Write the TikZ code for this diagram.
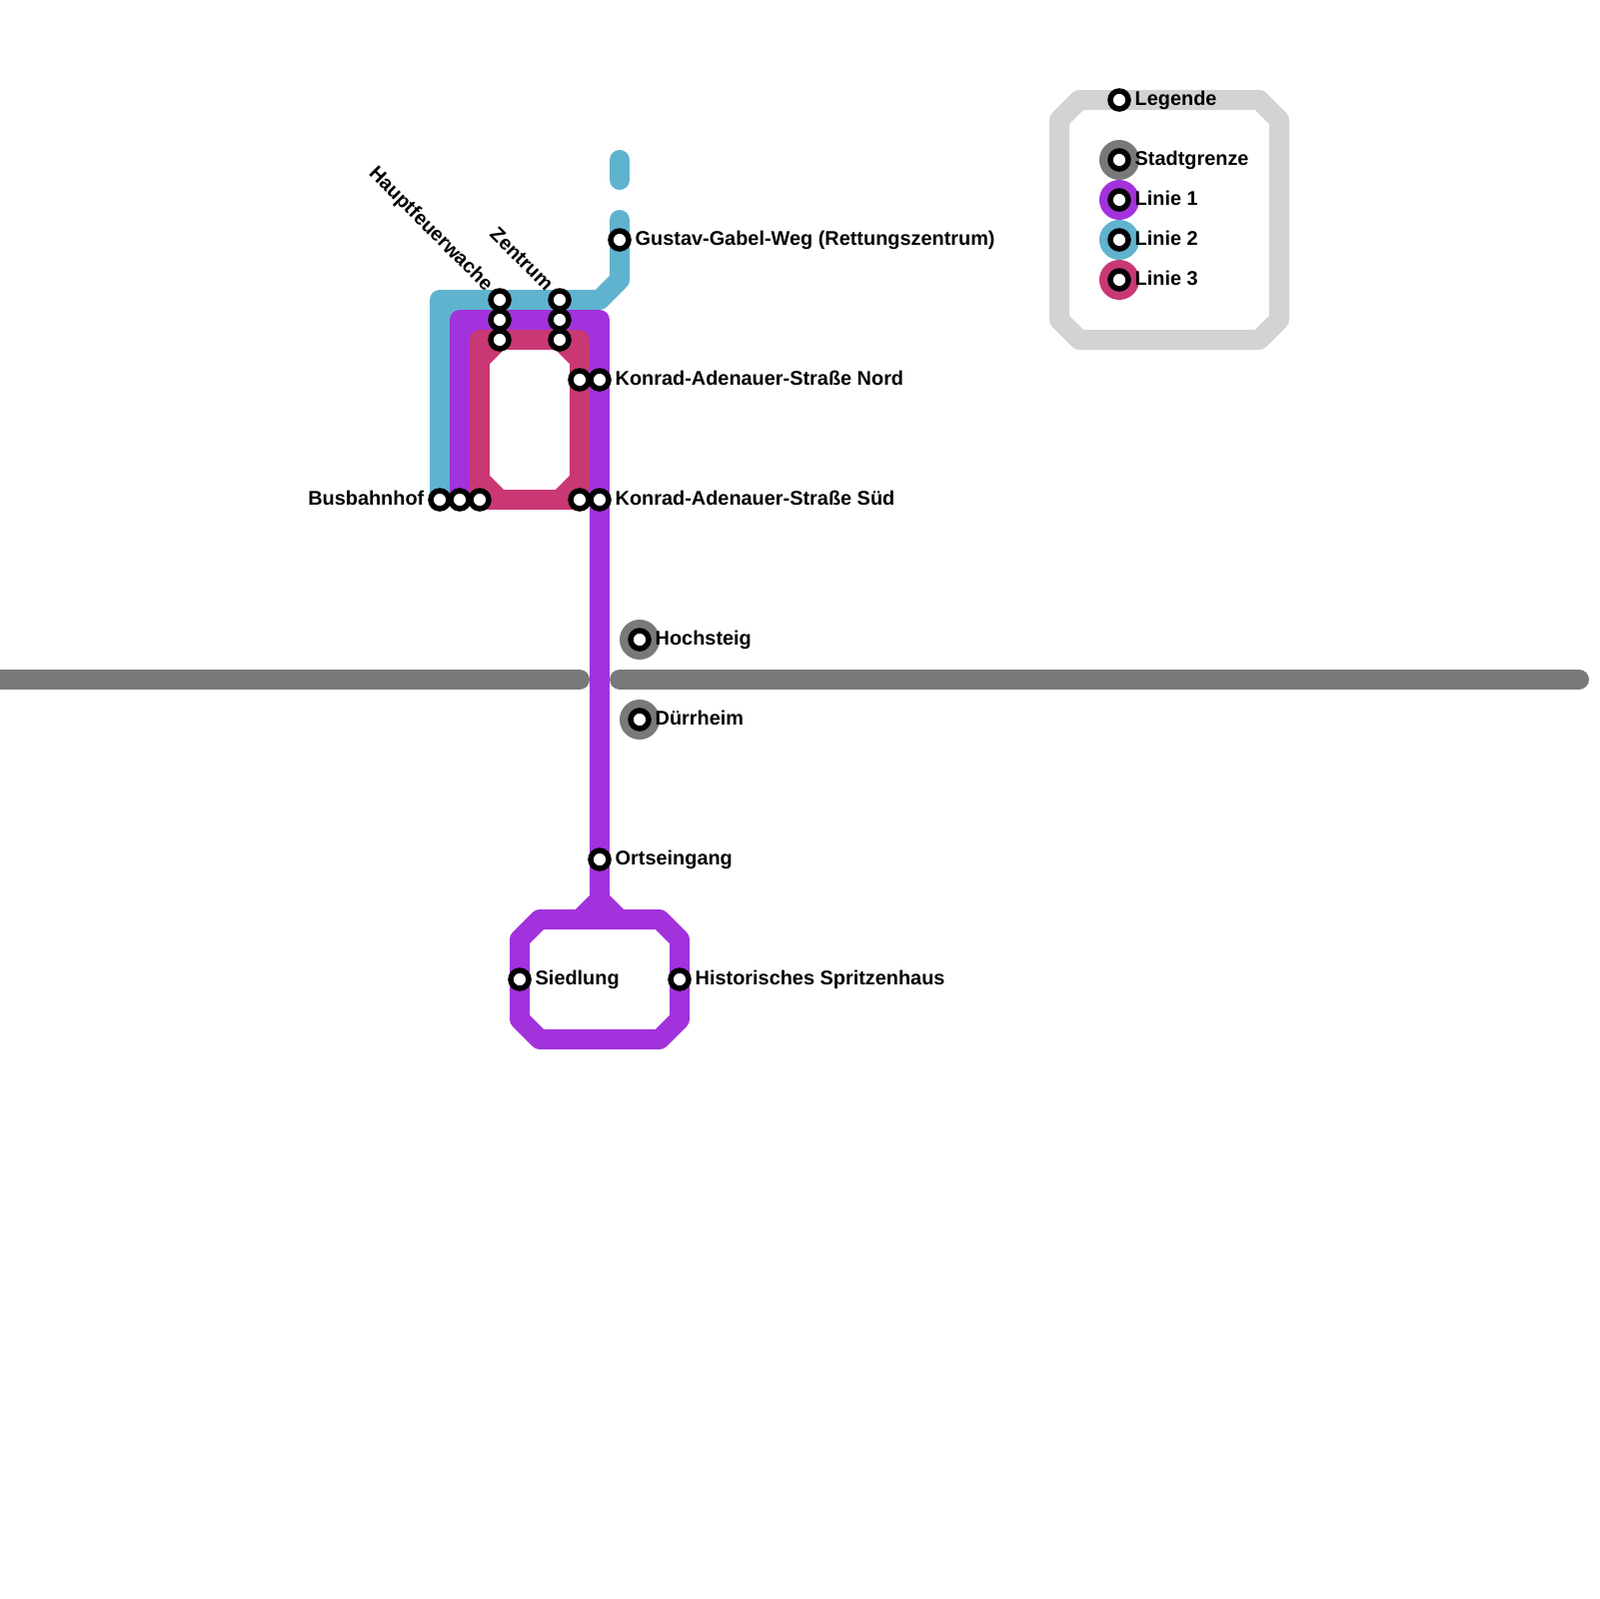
\documentclass[tikz,border=0pt]{standalone}
\usepackage{fontspec}
\setmainfont{Liberation Sans}
\usetikzlibrary{backgrounds}
\definecolor{linieA}{HTML}{A232DC}
\definecolor{linieB}{HTML}{5FB3CE}
\definecolor{linieC}{HTML}{C93873}
\definecolor{grenze}{HTML}{797979}
\definecolor{rahmen}{HTML}{D3D3D3}
\tikzset{
	stn/.style={circle,draw=black,fill=white,line width=.55mm,minimum size=1.8mm,inner sep=0pt,outer sep=0pt},
	spur/.style={line width=2mm,line cap=round,line join=round},
	lblfont/.style={font=\bfseries\fontsize{5.66}{6}\selectfont},
	lblr/.style={lblfont,anchor=base west,inner sep=0pt,xshift=1.5mm,yshift=-.55mm},
	lbll/.style={lblfont,anchor=base east,inner sep=0pt,xshift=-1.5mm,yshift=-.55mm},
	lbld/.style={lblfont,anchor=base east,inner sep=0pt,xshift=-1.4mm,yshift=.75mm,rotate=-45},
	punkt/.style={circle,minimum size=4mm,inner sep=0pt}
}
\begin{document}
\begin{tikzpicture}[x=.1mm,y=-.1mm]
	\useasboundingbox (0,0) rectangle (1600,1600);
	% stations
	\node[stn] (bus1) at (440,500) {};
	\node[stn] (bus2) at (460,500) {};
	\node[stn] (bus3) at (480,500) {};
	\node[stn] (feuer1) at (500,300) {};
	\node[stn] (feuer2) at (500,320) {};
	\node[stn] (feuer3) at (500,340) {};
	\node[stn] (zentrum1) at (560,300) {};
	\node[stn] (zentrum2) at (560,320) {};
	\node[stn] (zentrum3) at (560,340) {};
	\node[stn] (gustav) at (620,240) {};
	\node[stn] (nord1) at (580,380) {};
	\node[stn] (nord2) at (600,380) {};
	\node[stn] (sued1) at (580,500) {};
	\node[stn] (sued2) at (600,500) {};
	\node[stn] (hochsteig) at (640,640) {};
	\node[stn] (duerrheim) at (640,720) {};
	\node[stn] (ort) at (600,860) {};
	\node[stn] (siedlung) at (520,980) {};
	\node[stn] (spritze) at (680,980) {};
	\node[stn] (legende) at (1120,100) {};
	\node[stn] (stadt) at (1120,160) {};
	\node[stn] (eins) at (1120,200) {};
	\node[stn] (zwei) at (1120,240) {};
	\node[stn] (drei) at (1120,280) {};
	% labels
	\path
	(bus1.center) node[lbll]{Busbahnhof}
	(feuer1.center) node[lbld]{Hauptfeuerwache}
	(zentrum1.center) node[lbld]{Zentrum}
	(gustav.center) node[lblr]{Gustav-Gabel-Weg (Rettungszentrum)}
	(nord2.center) node[lblr]{Konrad-Adenauer-Straße Nord}
	(sued2.center) node[lblr]{Konrad-Adenauer-Straße Süd}
	(hochsteig.center) node[lblr]{Hochsteig}
	(duerrheim.center) node[lblr]{Dürrheim}
	(ort.center) node[lblr]{Ortseingang}
	(siedlung.center) node[lblr]{Siedlung}
	(spritze.center) node[lblr]{Historisches Spritzenhaus}
	(legende.center) node[lblr]{Legende}
	(stadt.center) node[lblr]{Stadtgrenze}
	(eins.center) node[lblr]{Linie 1}
	(zwei.center) node[lblr]{Linie 2}
	(drei.center) node[lblr]{Linie 3}
	;
	% bends
	\coordinate (gW) at (-20,680);
	\coordinate (gA) at (580,680);
	\coordinate (gB) at (620,680);
	\coordinate (gO) at (1580,680);
	\coordinate (bA) at (620,160);
	\coordinate (bB) at (620,180);
	\coordinate (bC) at (620,220);
	\coordinate (bD) at (620,280);
	\coordinate (bE) at (600,300);
	\coordinate (bF) at (440,300);
	\coordinate (pA) at (460,320);
	\coordinate (pB) at (600,320);
	\coordinate (pC) at (600,900);
	\coordinate (rA) at (480,340);
	\coordinate (rB) at (580,340);
	\begin{scope}[on background layer]
		% legend frame
		\draw[spur,rahmen] (1080,100) -- (1260,100) -- (1280,120) -- (1280,320) -- (1260,340) -- (1080,340) -- (1060,320) -- (1060,120) -- cycle;
		\node[punkt,fill=grenze] at (stadt.center) {};
		\node[punkt,fill=linieA] at (eins.center) {};
		\node[punkt,fill=linieB] at (zwei.center) {};
		\node[punkt,fill=linieC] at (drei.center) {};
		\node[punkt,fill=grenze] at (hochsteig.center) {};
		\node[punkt,fill=grenze] at (duerrheim.center) {};
		% city limit
		\draw[spur,grenze] (gW) -- (gA);
		\draw[spur,grenze] (gB) -- (gO);
		% line 2
		\draw[spur,linieB] (bA) -- (bB);
		\draw[spur,linieB] (bC) -- (gustav.center) -- (bD) -- (bE) -- (bF) -- (bus1.center);
		\fill[linieB] (bF) rectangle (pA);
		% line 1
		\draw[spur,linieA] (bus2.center) -- (pA) -- (pB) -- (pC);
		\draw[spur,linieA] (pC) -- (580,920);
		\draw[spur,linieA] (pC) -- (620,920);
		\draw[spur,linieA] (540,920) -- (660,920) -- (680,940) -- (spritze.center) -- (680,1020) -- (660,1040) -- (540,1040) -- (520,1020) -- (siedlung.center) -- (520,940) -- cycle;
		\fill[linieA] (pA) rectangle (rA);
		\fill[linieA] (pB) rectangle (rB);
		% line 3
		\draw[spur,linieC] (bus3.center) -- (rA) -- (rB) -- (sued1.center) -- cycle;
		\draw[spur,linieC] (480,360) -- (feuer3.center);
		\draw[spur,linieC] (zentrum3.center) -- (580,360);
		\draw[spur,linieC] (480,480) -- (500,500);
		\draw[spur,linieC] (560,500) -- (580,480);
	\end{scope}
\end{tikzpicture}
\end{document}
